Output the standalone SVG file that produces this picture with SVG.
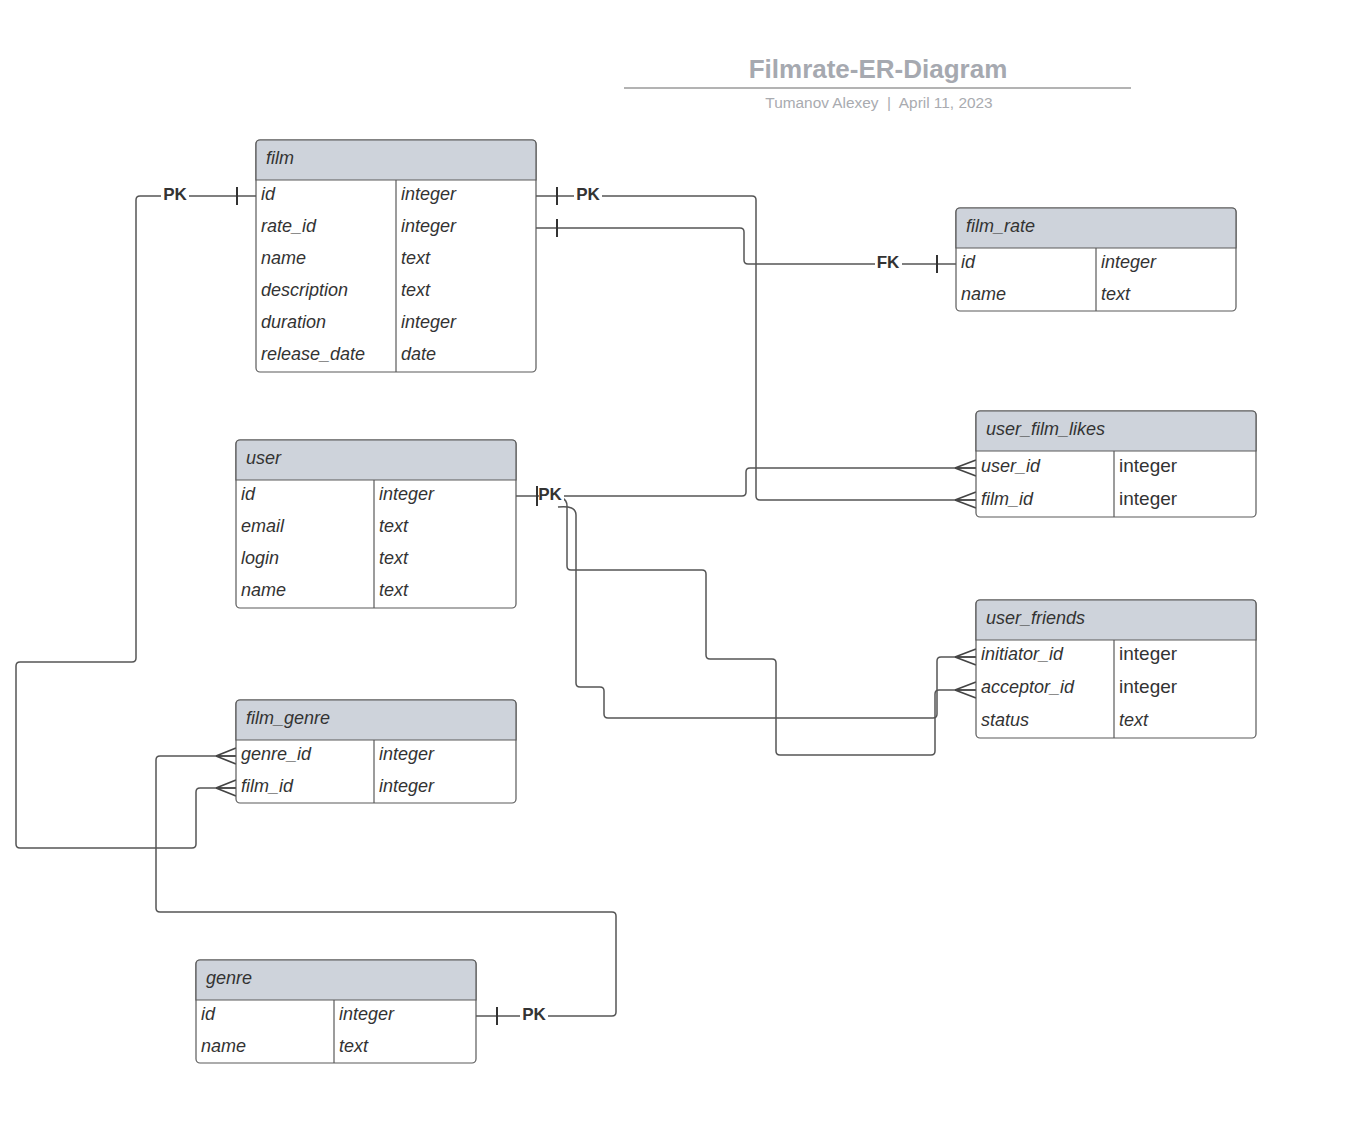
<svg xmlns="http://www.w3.org/2000/svg" width="1360" height="1134" viewBox="0 0 1360 1134">
  <style>
    .box { fill: #ffffff; stroke: #5a5a5a; stroke-width: 1.2; }
    .head { fill: #ced3db; stroke: #5a5a5a; stroke-width: 1.2; }
    .sep { stroke: #5a5a5a; stroke-width: 1.2; fill: none; }
    .htxt { font-family: "Liberation Sans", Arial, sans-serif; font-size: 18px; font-style: italic; fill: #333333; }
    .txt { font-family: "Liberation Sans", Arial, sans-serif; font-size: 18px; font-style: italic; fill: #333333; }
    .txtn { font-family: "Liberation Sans", Arial, sans-serif; font-size: 19px; fill: #333333; }
    .conn { fill: none; stroke: #555555; stroke-width: 1.5; }
    .foot { fill: none; stroke: #444444; stroke-width: 1.7; }
    .bar { stroke: #333333; stroke-width: 2; }
    .lbl { font-family: "Liberation Sans", Arial, sans-serif; font-size: 17px; font-weight: bold; fill: #333333; text-anchor: middle; }
    .lblbg { fill: #ffffff; }
  </style>

  <!-- title block -->
  <g id="title">
    <text x="878" y="78" text-anchor="middle" font-family="Liberation Sans, Arial, sans-serif" font-size="26" font-weight="bold" fill="#a6a9b0">Filmrate-ER-Diagram</text>
    <line x1="624" y1="88" x2="1131" y2="88" stroke="#b3b3b3" stroke-width="2"/>
    <text x="879" y="107.5" text-anchor="middle" font-family="Liberation Sans, Arial, sans-serif" font-size="15.4" fill="#a9abb0" xml:space="preserve">Tumanov Alexey  |  April 11, 2023</text>
  </g>

  <!-- connectors -->
  <g id="connectors">
    <!-- film.id -> film_genre.film_id -->
    <path class="conn" d="M256,196 L140,196 Q136,196 136,200 L136,658 Q136,662 132,662 L20,662 Q16,662 16,666 L16,844 Q16,848 20,848 L192,848 Q196,848 196,844 L196,792 Q196,788 200,788 L236,788"/>
    <!-- film.id -> user_film_likes.film_id -->
    <path class="conn" d="M536,196 L752,196 Q756,196 756,200 L756,496 Q756,500 760,500 L976,500"/>
    <!-- film.rate_id -> film_rate.id -->
    <path class="conn" d="M536,228 L740,228 Q744,228 744,232 L744,260 Q744,264 748,264 L956,264"/>
    <!-- user.id -> user_film_likes.user_id -->
    <path class="conn" d="M516,496 L742,496 Q746,496 746,492 L746,472 Q746,468 750,468 L976,468"/>
    <!-- user.id -> user_friends.acceptor_id -->
    <path class="conn" d="M562,498 Q567,500 567,506 L567,566 Q567,570 571,570 L702,570 Q706,570 706,574 L706,655 Q706,659 710,659 L772,659 Q776,659 776,663 L776,751 Q776,755 780,755 L931,755 Q935,755 935,751 L935,694 Q935,690 939,690 L976,690"/>
    <!-- user.id -> user_friends.initiator_id -->
    <path class="conn" d="M558,507 Q576,505 576,515 L576,683 Q576,687 580,687 L600,687 Q604,687 604,691 L604,714 Q604,718 608,718 L933,718 Q937,718 937,714 L937,661 Q937,657 941,657 L976,657"/>
    <!-- genre.id -> film_genre.genre_id -->
    <path class="conn" d="M476,1016 L612,1016 Q616,1016 616,1012 L616,916 Q616,912 612,912 L160,912 Q156,912 156,908 L156,760 Q156,756 160,756 L236,756"/>

    <!-- one-side bars -->
    <line class="bar" x1="237" y1="187" x2="237" y2="205"/>
    <line class="bar" x1="557" y1="187" x2="557" y2="205"/>
    <line class="bar" x1="557" y1="219" x2="557" y2="237"/>
    <line class="bar" x1="937" y1="255" x2="937" y2="273"/>
    <line class="bar" x1="537" y1="486" x2="537" y2="506"/>
    <line class="bar" x1="497" y1="1007" x2="497" y2="1025"/>

    <!-- crow's feet -->
    <path class="foot" d="M955,468 L976,460 M955,468 L976,476 M955,468 L976,468"/>
    <path class="foot" d="M955,500 L976,492 M955,500 L976,508 M955,500 L976,500"/>
    <path class="foot" d="M955,657 L976,649 M955,657 L976,665 M955,657 L976,657"/>
    <path class="foot" d="M955,690 L976,682 M955,690 L976,698 M955,690 L976,690"/>
    <path class="foot" d="M216,756 L236,748 M216,756 L236,764 M216,756 L236,756"/>
    <path class="foot" d="M216,788 L236,780 M216,788 L236,796 M216,788 L236,788"/>

    <!-- key labels -->
    <rect class="lblbg" x="161" y="186" width="28" height="20"/>
    <text class="lbl" x="175" y="200">PK</text>
    <rect class="lblbg" x="574" y="186" width="28" height="20"/>
    <text class="lbl" x="588" y="200">PK</text>
    <rect class="lblbg" x="875" y="254" width="27" height="20"/>
    <text class="lbl" x="888" y="268">FK</text>
    <rect class="lblbg" x="539" y="484" width="25" height="20"/>
    <text class="lbl" x="550" y="500">PK</text>
    <rect class="lblbg" x="520" y="1006" width="28" height="20"/>
    <text class="lbl" x="534" y="1020">PK</text>
  </g>

  <!-- film -->
  <g id="film">
    <rect class="box" x="256" y="140" width="280" height="232" rx="4"/>
    <path class="head" d="M256,180 L256,144 Q256,140 260,140 L532,140 Q536,140 536,144 L536,180 Z"/>
    <line class="sep" x1="396" y1="180" x2="396" y2="372"/>
    <text class="htxt" x="266" y="164">film</text>
    <text class="txt" x="261" y="200">id</text><text class="txt" x="401" y="200">integer</text>
    <text class="txt" x="261" y="232">rate_id</text><text class="txt" x="401" y="232">integer</text>
    <text class="txt" x="261" y="264">name</text><text class="txt" x="401" y="264">text</text>
    <text class="txt" x="261" y="296">description</text><text class="txt" x="401" y="296">text</text>
    <text class="txt" x="261" y="328">duration</text><text class="txt" x="401" y="328">integer</text>
    <text class="txt" x="261" y="360">release_date</text><text class="txt" x="401" y="360">date</text>
  </g>

  <!-- film_rate -->
  <g id="film_rate">
    <rect class="box" x="956" y="208" width="280" height="103" rx="4"/>
    <path class="head" d="M956,248 L956,212 Q956,208 960,208 L1232,208 Q1236,208 1236,212 L1236,248 Z"/>
    <line class="sep" x1="1096" y1="248" x2="1096" y2="311"/>
    <text class="htxt" x="966" y="232">film_rate</text>
    <text class="txt" x="961" y="268">id</text><text class="txt" x="1101" y="268">integer</text>
    <text class="txt" x="961" y="300">name</text><text class="txt" x="1101" y="300">text</text>
  </g>

  <!-- user_film_likes -->
  <g id="user_film_likes">
    <rect class="box" x="976" y="411" width="280" height="106" rx="4"/>
    <path class="head" d="M976,451 L976,415 Q976,411 980,411 L1252,411 Q1256,411 1256,415 L1256,451 Z"/>
    <line class="sep" x1="1114" y1="451" x2="1114" y2="517"/>
    <text class="htxt" x="986" y="435">user_film_likes</text>
    <text class="txt" x="981" y="472">user_id</text><text class="txtn" x="1119" y="472">integer</text>
    <text class="txt" x="981" y="505">film_id</text><text class="txtn" x="1119" y="505">integer</text>
  </g>

  <!-- user -->
  <g id="user">
    <rect class="box" x="236" y="440" width="280" height="168" rx="4"/>
    <path class="head" d="M236,480 L236,444 Q236,440 240,440 L512,440 Q516,440 516,444 L516,480 Z"/>
    <line class="sep" x1="374" y1="480" x2="374" y2="608"/>
    <text class="htxt" x="246" y="464">user</text>
    <text class="txt" x="241" y="500">id</text><text class="txt" x="379" y="500">integer</text>
    <text class="txt" x="241" y="532">email</text><text class="txt" x="379" y="532">text</text>
    <text class="txt" x="241" y="564">login</text><text class="txt" x="379" y="564">text</text>
    <text class="txt" x="241" y="596">name</text><text class="txt" x="379" y="596">text</text>
  </g>

  <!-- user_friends -->
  <g id="user_friends">
    <rect class="box" x="976" y="600" width="280" height="138" rx="4"/>
    <path class="head" d="M976,640 L976,604 Q976,600 980,600 L1252,600 Q1256,600 1256,604 L1256,640 Z"/>
    <line class="sep" x1="1114" y1="640" x2="1114" y2="738"/>
    <text class="htxt" x="986" y="624">user_friends</text>
    <text class="txt" x="981" y="660">initiator_id</text><text class="txtn" x="1119" y="660">integer</text>
    <text class="txt" x="981" y="693">acceptor_id</text><text class="txtn" x="1119" y="693">integer</text>
    <text class="txt" x="981" y="726">status</text><text class="txt" x="1119" y="726">text</text>
  </g>

  <!-- film_genre -->
  <g id="film_genre">
    <rect class="box" x="236" y="700" width="280" height="103" rx="4"/>
    <path class="head" d="M236,740 L236,704 Q236,700 240,700 L512,700 Q516,700 516,704 L516,740 Z"/>
    <line class="sep" x1="374" y1="740" x2="374" y2="803"/>
    <text class="htxt" x="246" y="724">film_genre</text>
    <text class="txt" x="241" y="760">genre_id</text><text class="txt" x="379" y="760">integer</text>
    <text class="txt" x="241" y="792">film_id</text><text class="txt" x="379" y="792">integer</text>
  </g>

  <!-- genre -->
  <g id="genre">
    <rect class="box" x="196" y="960" width="280" height="103" rx="4"/>
    <path class="head" d="M196,1000 L196,964 Q196,960 200,960 L472,960 Q476,960 476,964 L476,1000 Z"/>
    <line class="sep" x1="334" y1="1000" x2="334" y2="1063"/>
    <text class="htxt" x="206" y="984">genre</text>
    <text class="txt" x="201" y="1020">id</text><text class="txt" x="339" y="1020">integer</text>
    <text class="txt" x="201" y="1052">name</text><text class="txt" x="339" y="1052">text</text>
  </g>
</svg>
